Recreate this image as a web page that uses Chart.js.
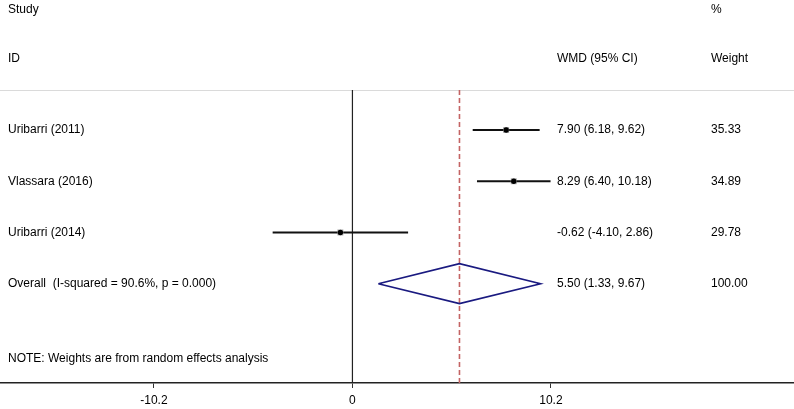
<!DOCTYPE html>
<html>
<head>
<meta charset="utf-8">
<script src="https://cdn.jsdelivr.net/npm/chart.js@4/dist/chart.umd.min.js"></script>
<style>
  html, body { margin: 0; padding: 0; background: #fff; }
  #wrap { width: 794px; height: 409px; position: relative; }
</style>
</head>
<body>
<div id="wrap"><canvas id="forest"></canvas></div>
<script>
// Forest plot: WMD with 95% CI, random effects
var studies = ['Uribarri (2011)', 'Vlassara (2016)', 'Uribarri (2014)'];
var wmd = [7.90, 8.29, -0.62];
var ciLow = [6.18, 6.40, -4.10];
var ciHigh = [9.62, 10.18, 2.86];
var weights = ['35.33', '34.89', '29.78'];
var wmdText = ['7.90 (6.18, 9.62)', '8.29 (6.40, 10.18)', '-0.62 (-4.10, 2.86)'];

var overallLabel = 'Overall  (I-squared = 90.6%, p = 0.000)';
var overallEst = 5.50;
var overallLow = 1.33;
var overallHigh = 9.67;
var overallText = '5.50 (1.33, 9.67)';
var overallWeight = '100.00';

var tickValues = [-10.2, 0, 10.2];
var noteText = 'NOTE: Weights are from random effects analysis';

var FONT = '12px "Liberation Sans", Arial, sans-serif';
var TOP_ROW = 0.22;    // row value of the thin top border
var DIAMOND_H = 0.39;  // half height of the diamond, in rows

var datasets = [];

// CI lines, one per study (row 1..n)
studies.forEach(function (s, i) {
  datasets.push({
    data: [{ x: ciLow[i], y: i + 1 }, { x: ciHigh[i], y: i + 1 }],
    borderColor: '#111',
    borderWidth: 2,
    pointRadius: 0,
    showLine: true,
    order: 3
  });
});

// weight boxes + point estimates (lower order = drawn on top)
datasets.push({
  data: wmd.map(function (v, i) { return { x: v, y: i + 1 }; }),
  showLine: false,
  pointStyle: 'rect',
  pointRadius: 4.2,
  pointBackgroundColor: '#a8a8a8',
  pointBorderWidth: 0,
  order: 1
});
datasets.push({
  data: wmd.map(function (v, i) { return { x: v, y: i + 1 }; }),
  showLine: false,
  pointStyle: 'circle',
  pointRadius: 2.7,
  pointBackgroundColor: '#000',
  pointBorderWidth: 0,
  order: 0
});

// overall diamond
var oRow = studies.length + 1;
datasets.push({
  data: [
    { x: overallLow, y: oRow },
    { x: overallEst, y: oRow - DIAMOND_H },
    { x: overallHigh, y: oRow },
    { x: overallEst, y: oRow + DIAMOND_H },
    { x: overallLow, y: oRow }
  ],
  borderColor: '#1a1a80',
  borderWidth: 1.6,
  pointRadius: 0,
  showLine: true,
  tension: 0,
  order: 2
});

// zero line
datasets.push({
  data: [{ x: 0, y: TOP_ROW }, { x: 0, y: 6 }],
  borderColor: '#222',
  borderWidth: 1.2,
  pointRadius: 0,
  showLine: true,
  order: 5
});

// overall effect dashed line
datasets.push({
  data: [{ x: overallEst, y: TOP_ROW }, { x: overallEst, y: 6 }],
  borderColor: '#c46464',
  borderWidth: 1.6,
  borderDash: [5, 3],
  pointRadius: 0,
  showLine: true,
  order: 4
});

var textPlugin = {
  id: 'forestText',
  beforeDatasetsDraw: function (chart) {
    var ctx = chart.ctx;
    var y = chart.scales.y;
    var py = Math.round(y.getPixelForValue(TOP_ROW)) + 0.5;
    ctx.save();
    // thin top border
    ctx.strokeStyle = '#dadada';
    ctx.lineWidth = 1;
    ctx.beginPath();
    ctx.moveTo(0, py);
    ctx.lineTo(chart.width, py);
    ctx.stroke();
    ctx.restore();
  },
  afterDraw: function (chart) {
    var ctx = chart.ctx;
    var y = chart.scales.y;
    ctx.save();
    ctx.font = FONT;
    ctx.fillStyle = '#000';
    ctx.textBaseline = 'middle';
    ctx.textAlign = 'left';

    var colStudy = 8, colWmd = 557, colWt = 711;
    var hdr1 = -1.36, hdr2 = -0.39;
    ctx.fillText('Study', colStudy, y.getPixelForValue(hdr1));
    ctx.fillText('ID', colStudy, y.getPixelForValue(hdr2));
    ctx.fillText('%', colWt, y.getPixelForValue(hdr1));
    ctx.fillText('WMD (95% CI)', colWmd, y.getPixelForValue(hdr2));
    ctx.fillText('Weight', colWt, y.getPixelForValue(hdr2));

    studies.forEach(function (s, i) {
      var py = y.getPixelForValue(i + 1);
      ctx.fillText(s, colStudy, py);
      ctx.fillText(wmdText[i], colWmd, py);
      ctx.fillText(weights[i], colWt, py);
    });
    var po = y.getPixelForValue(oRow);
    ctx.fillText(overallLabel, colStudy, po);
    ctx.fillText(overallText, colWmd, po);
    ctx.fillText(overallWeight, colWt, po);

    ctx.fillText(noteText, colStudy, y.getPixelForValue(5.47));
    ctx.restore();
  }
};

new Chart(document.getElementById('forest').getContext('2d'), {
  type: 'line',
  data: { datasets: datasets },
  options: {
    responsive: true,
    maintainAspectRatio: false,
    animation: false,
    layout: { padding: 0, autoPadding: false },
    plugins: {
      legend: { display: false },
      tooltip: { enabled: false }
    },
    scales: {
      x: {
        type: 'linear',
        min: -18.11,
        max: 22.69,
        afterBuildTicks: function (axis) {
          axis.ticks = tickValues.map(function (v) { return { value: v }; });
        },
        afterFit: function (axis) { axis.height = 26; },
        ticks: {
          color: '#000',
          font: { family: '"Liberation Sans", Arial, sans-serif', size: 12 },
          padding: 5,
          maxRotation: 0,
          autoSkip: false,
          callback: function (v) { return String(v); }
        },
        grid: {
          display: true,
          drawOnChartArea: false,
          drawTicks: true,
          tickLength: 5,
          color: '#333',
          lineWidth: 1
        },
        border: { display: true, color: '#222', width: 1.5 }
      },
      y: {
        type: 'linear',
        display: false,
        reverse: true,
        min: -1.54,
        max: 5.94
      }
    }
  },
  plugins: [textPlugin]
});
</script>
</body>
</html>
